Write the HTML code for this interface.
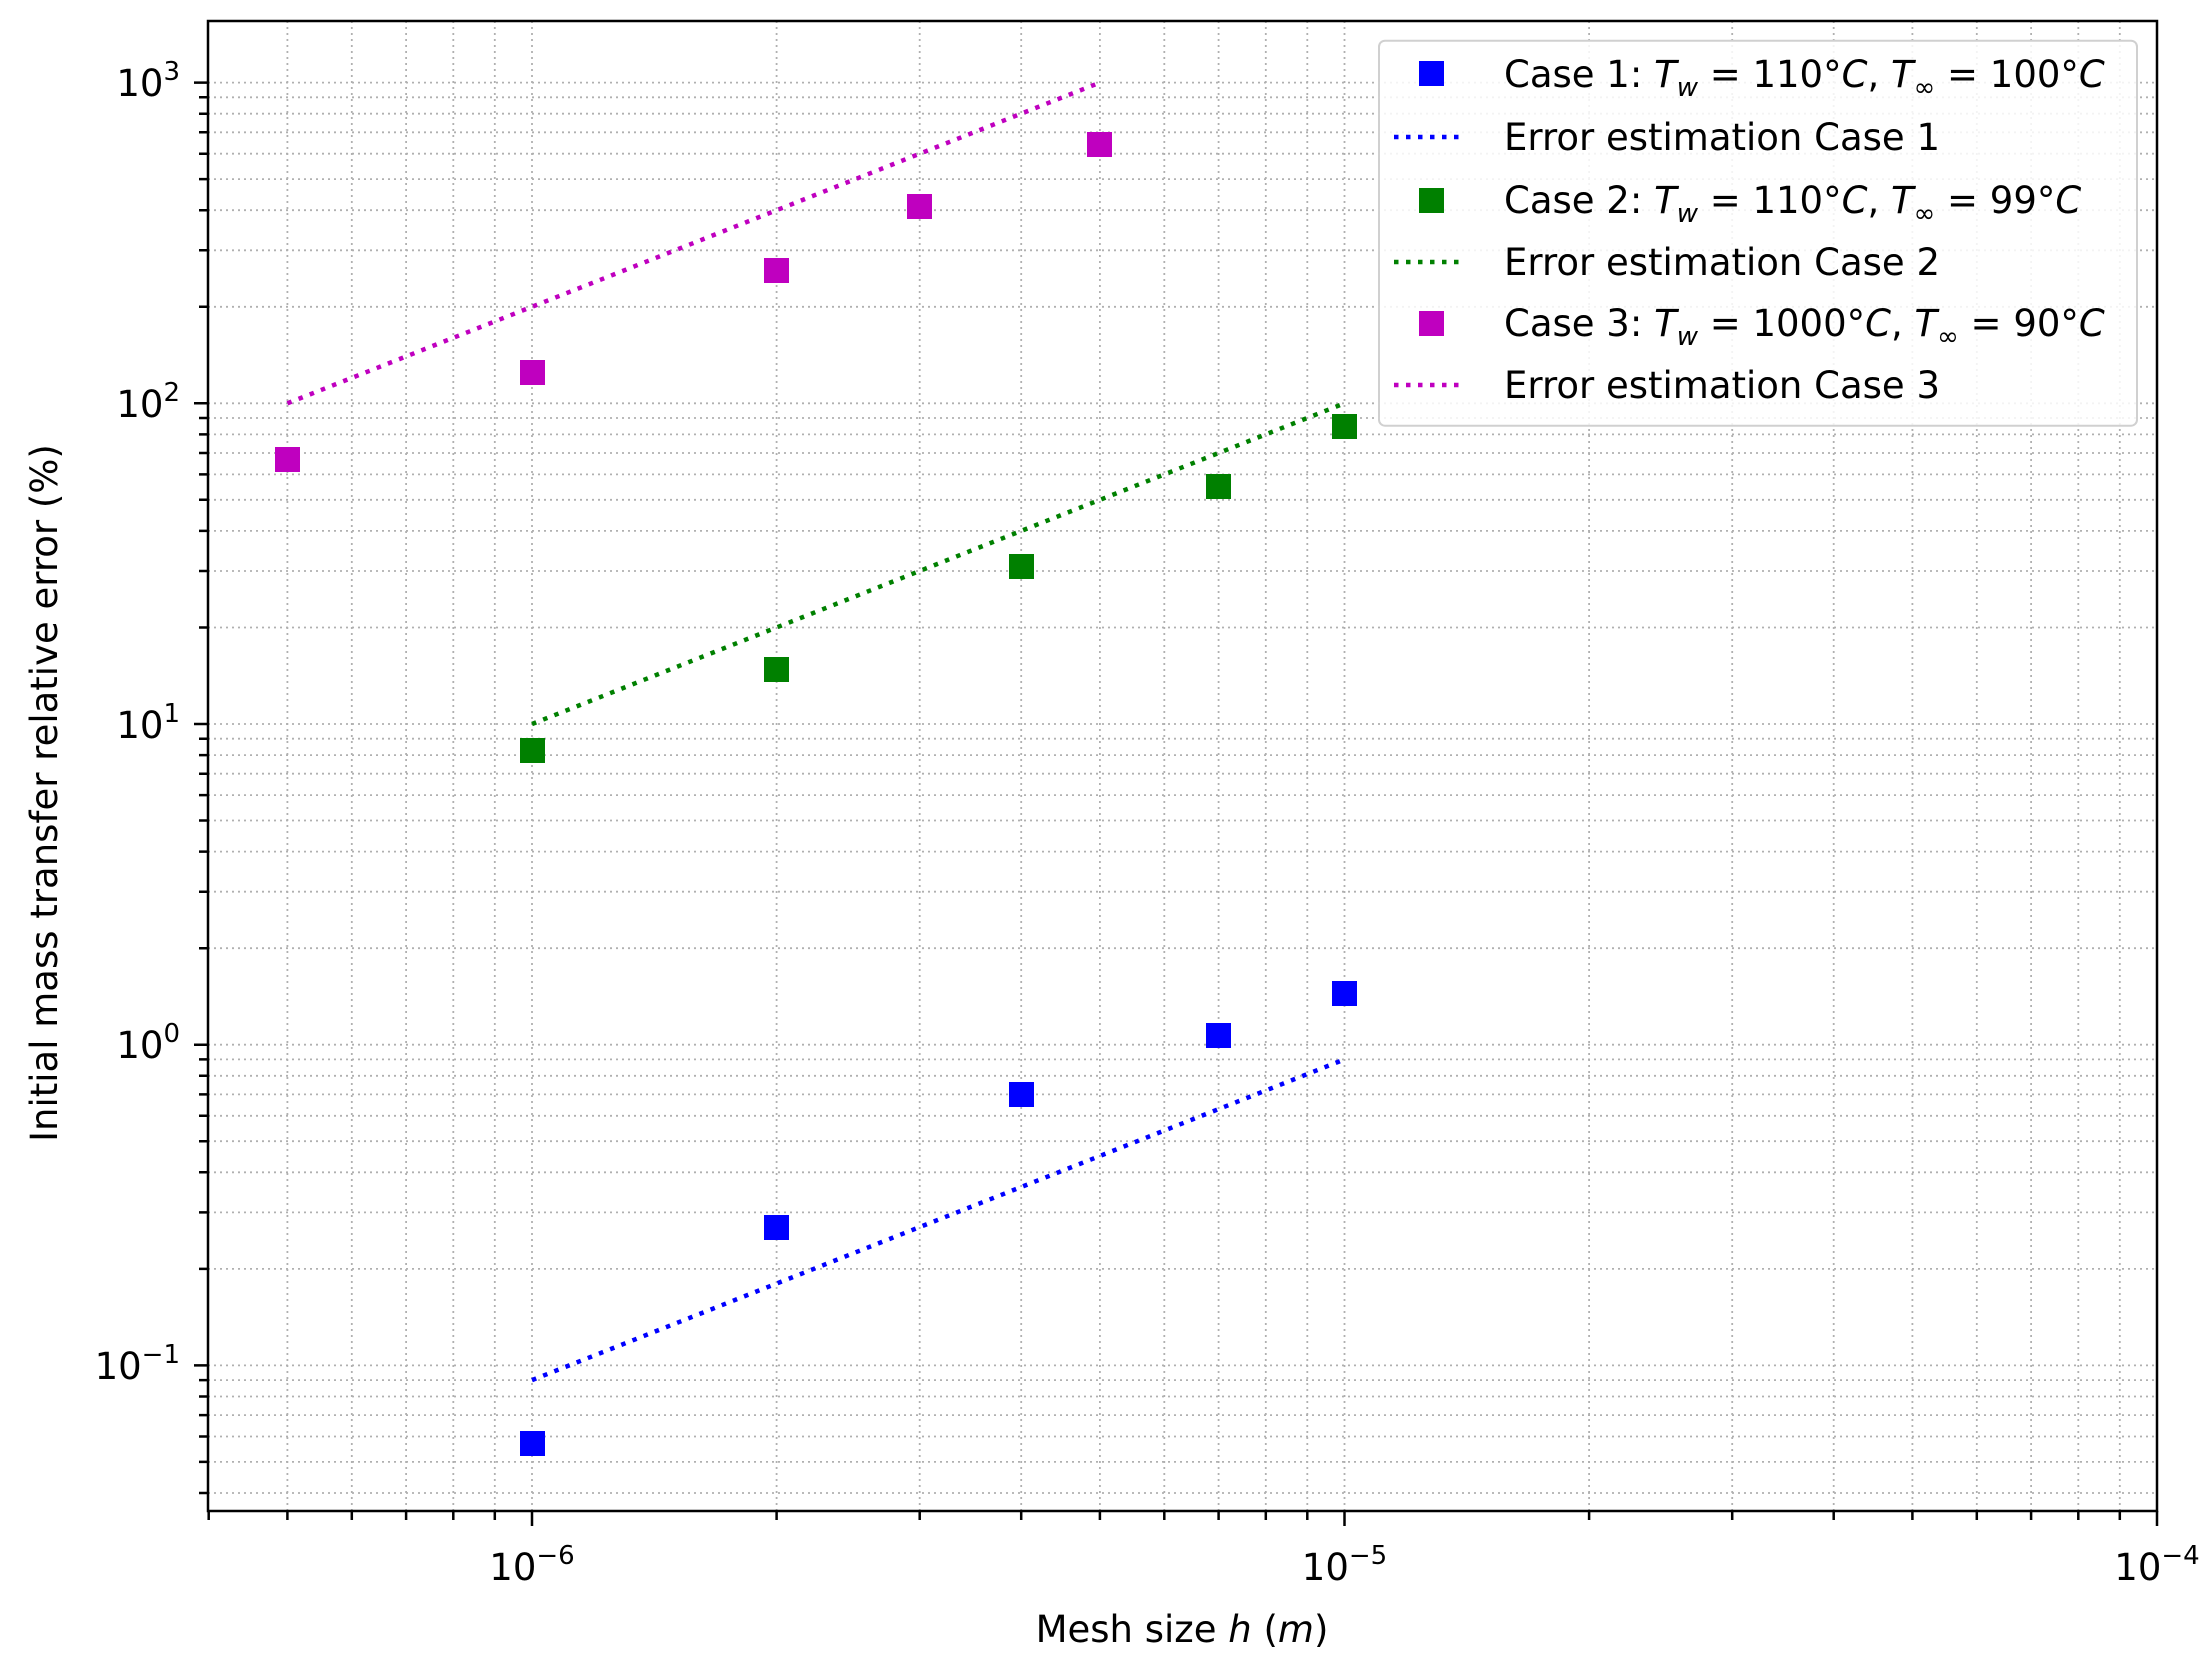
<!DOCTYPE html>
<html><head><meta charset="utf-8"><style>
html,body{margin:0;padding:0;background:#fff;}
svg{display:block;font-family:"DejaVu Sans","Liberation Sans",sans-serif;}
</style></head><body>
<svg width="2212" height="1666" viewBox="0 0 2212 1666" xmlns="http://www.w3.org/2000/svg">
<rect width="2212" height="1666" fill="#fff"/>
<g stroke="#b0b0b0" stroke-width="1.8" stroke-dasharray="2 4" fill="none">
<path d="M287.4 21V1511M351.8 21V1511M406.1 21V1511M453.3 21V1511M494.8 21V1511M532 21V1511M776.6 21V1511M919.7 21V1511M1021.2 21V1511M1099.9 21V1511M1164.3 21V1511M1218.6 21V1511M1265.8 21V1511M1307.3 21V1511M1344.5 21V1511M1589.1 21V1511M1732.2 21V1511M1833.7 21V1511M1912.4 21V1511M1976.8 21V1511M2031.1 21V1511M2078.3 21V1511M2119.8 21V1511"/>
<path d="M208 82.6H2157M208 97.3H2157M208 113.7H2157M208 132.3H2157M208 153.7H2157M208 179.1H2157M208 210.2H2157M208 250.3H2157M208 306.8H2157M208 403.3H2157M208 418H2157M208 434.4H2157M208 453H2157M208 474.4H2157M208 499.8H2157M208 530.9H2157M208 571H2157M208 627.5H2157M208 724H2157M208 738.7H2157M208 755.1H2157M208 773.7H2157M208 795.1H2157M208 820.5H2157M208 851.6H2157M208 891.7H2157M208 948.2H2157M208 1044.7H2157M208 1059.4H2157M208 1075.8H2157M208 1094.4H2157M208 1115.8H2157M208 1141.2H2157M208 1172.3H2157M208 1212.4H2157M208 1268.9H2157M208 1365.4H2157M208 1380.1H2157M208 1396.5H2157M208 1415.1H2157M208 1436.5H2157M208 1461.9H2157M208 1493H2157"/>
</g>
<!-- ticks -->
<g stroke="#000" stroke-width="2.5">
<path d="M208.7 1511v9M287.4 1511v9M351.8 1511v9M406.1 1511v9M453.3 1511v9M494.8 1511v9M776.6 1511v9M919.7 1511v9M1021.2 1511v9M1099.9 1511v9M1164.3 1511v9M1218.6 1511v9M1265.8 1511v9M1307.3 1511v9M1589.1 1511v9M1732.2 1511v9M1833.7 1511v9M1912.4 1511v9M1976.8 1511v9M2031.1 1511v9M2078.3 1511v9M2119.8 1511v9"/>
<path d="M532 1511v15M1344.5 1511v15M2157 1511v15"/>
<path d="M208 97.3h-9M208 113.7h-9M208 132.3h-9M208 153.7h-9M208 179.1h-9M208 210.2h-9M208 250.3h-9M208 306.8h-9M208 418h-9M208 434.4h-9M208 453h-9M208 474.4h-9M208 499.8h-9M208 530.9h-9M208 571h-9M208 627.5h-9M208 738.7h-9M208 755.1h-9M208 773.7h-9M208 795.1h-9M208 820.5h-9M208 851.6h-9M208 891.7h-9M208 948.2h-9M208 1059.4h-9M208 1075.8h-9M208 1094.4h-9M208 1115.8h-9M208 1141.2h-9M208 1172.3h-9M208 1212.4h-9M208 1268.9h-9M208 1380.1h-9M208 1396.5h-9M208 1415.1h-9M208 1436.5h-9M208 1461.9h-9M208 1493h-9"/>
<path d="M208 82.6h-14M208 403.3h-14M208 724h-14M208 1044.7h-14M208 1365.4h-14"/>
</g>
<!-- series lines -->
<g stroke-width="4.5" stroke-dasharray="4.5 7.5" fill="none">
<line x1="287.4" y1="403.3" x2="1099.9" y2="82.6" stroke="#bf00bf"/>
<line x1="532" y1="724" x2="1344.5" y2="403.3" stroke="#008000"/>
<line x1="532" y1="1380.1" x2="1344.5" y2="1059.4" stroke="#0000ff"/>
</g>
<!-- markers -->
<g fill="#bf00bf">
<rect x="275" y="447" width="25" height="25"/><rect x="520" y="360" width="25" height="25"/><rect x="764" y="258" width="25" height="25"/><rect x="907" y="194" width="25" height="25"/><rect x="1087" y="132" width="25" height="25"/>
</g>
<g fill="#008000">
<rect x="520" y="738" width="25" height="25"/><rect x="764" y="657" width="25" height="25"/><rect x="1009" y="554" width="25" height="25"/><rect x="1206" y="474" width="25" height="25"/><rect x="1332" y="414" width="25" height="25"/>
</g>
<g fill="#0000ff">
<rect x="520" y="1431" width="25" height="25"/><rect x="764" y="1215" width="25" height="25"/><rect x="1009" y="1082" width="25" height="25"/><rect x="1206" y="1023" width="25" height="25"/><rect x="1332" y="981" width="25" height="25"/>
</g>
<rect x="208" y="21" width="1949" height="1490" fill="none" stroke="#000" stroke-width="2.5"/>
<!-- tick labels -->
<g font-size="37" fill="#000" text-anchor="end">
<text x="180" y="96">10<tspan font-size="26" dy="-16">3</tspan></text>
<text x="180" y="417">10<tspan font-size="26" dy="-16">2</tspan></text>
<text x="180" y="738">10<tspan font-size="26" dy="-16">1</tspan></text>
<text x="180" y="1058">10<tspan font-size="26" dy="-16">0</tspan></text>
<text x="180" y="1379">10<tspan font-size="26" dy="-16">−1</tspan></text>
</g>
<g font-size="37" fill="#000" text-anchor="middle">
<text x="532" y="1580">10<tspan font-size="26" dy="-16">−6</tspan></text>
<text x="1344.5" y="1580">10<tspan font-size="26" dy="-16">−5</tspan></text>
<text x="2157" y="1580">10<tspan font-size="26" dy="-16">−4</tspan></text>
<text x="1182" y="1642">Mesh size <tspan font-style="italic">h</tspan> (<tspan font-style="italic">m</tspan>)</text>
<text transform="translate(57,793) rotate(-90)">Initial mass transfer relative error (%)</text>
</g>
<!-- legend -->
<rect x="1379" y="40.7" width="758" height="385" rx="6" fill="#fff" fill-opacity="0.85" stroke="#d0d0d0" stroke-width="2"/>
<g>
<rect x="1419" y="61" width="25" height="25" fill="#0000ff"/>
<line x1="1394" y1="137" x2="1463" y2="137" stroke="#0000ff" stroke-width="4.5" stroke-dasharray="4.5 7.5"/>
<rect x="1419" y="188" width="25" height="25" fill="#008000"/>
<line x1="1394" y1="262" x2="1463" y2="262" stroke="#008000" stroke-width="4.5" stroke-dasharray="4.5 7.5"/>
<rect x="1419" y="311" width="25" height="25" fill="#bf00bf"/>
<line x1="1394" y1="385" x2="1463" y2="385" stroke="#bf00bf" stroke-width="4.5" stroke-dasharray="4.5 7.5"/>
</g>
<g font-size="37" fill="#000">
<text x="1504" y="87">Case 1: <tspan font-style="italic">T</tspan><tspan font-style="italic" font-size="26" dy="9">w</tspan><tspan dy="-9"> = 110°</tspan><tspan font-style="italic">C</tspan>, <tspan font-style="italic">T</tspan><tspan font-size="26" dy="9">∞</tspan><tspan dy="-9"> = 100°</tspan><tspan font-style="italic">C</tspan></text>
<text x="1504" y="150">Error estimation Case 1</text>
<text x="1504" y="213">Case 2: <tspan font-style="italic">T</tspan><tspan font-style="italic" font-size="26" dy="9">w</tspan><tspan dy="-9"> = 110°</tspan><tspan font-style="italic">C</tspan>, <tspan font-style="italic">T</tspan><tspan font-size="26" dy="9">∞</tspan><tspan dy="-9"> = 99°</tspan><tspan font-style="italic">C</tspan></text>
<text x="1504" y="275">Error estimation Case 2</text>
<text x="1504" y="336">Case 3: <tspan font-style="italic">T</tspan><tspan font-style="italic" font-size="26" dy="9">w</tspan><tspan dy="-9"> = 1000°</tspan><tspan font-style="italic">C</tspan>, <tspan font-style="italic">T</tspan><tspan font-size="26" dy="9">∞</tspan><tspan dy="-9"> = 90°</tspan><tspan font-style="italic">C</tspan></text>
<text x="1504" y="398">Error estimation Case 3</text>
</g>
</svg>
</body></html>
